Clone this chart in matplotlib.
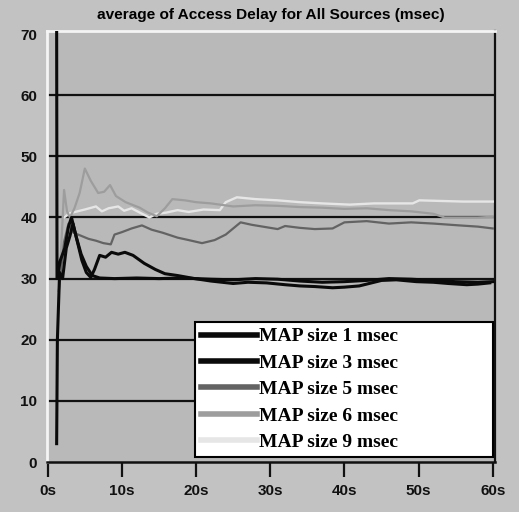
import matplotlib.pyplot as plt

# readings (time in s, delay in msec)
t_map1 = [1.2, 1.25, 1.7, 2.3, 2.8, 3.2, 3.8, 4.5, 5.2, 6.0, 7.0, 9.0, 12.0, 15.0, 18.0, 20.0,
          22.0, 25.0, 28.0, 31.0, 34.0, 37.0, 40.0, 43.0, 46.0, 49.0, 52.0, 55.0, 58.0, 60.0]
v_map1 = [72.0, 30.0, 33.0, 35.0, 38.5, 40.0, 37.0, 34.0, 32.0, 30.5, 30.1, 30.0, 30.1, 30.0, 30.1, 30.0,
          29.9, 29.8, 30.0, 29.9, 29.6, 29.4, 29.5, 29.7, 30.0, 29.9, 29.7, 29.5, 29.4, 29.5]

t_map3 = [1.2, 1.3, 1.6, 2.0, 2.5, 3.0, 3.4, 4.0, 4.6, 5.2, 5.8, 6.3, 7.0, 7.8, 8.6, 9.5, 10.4,
          11.5, 13.0, 14.5, 15.8, 17.5, 19.8, 22.0, 25.0, 27.0, 29.5, 32.0, 34.0, 36.0, 38.4,
          40.0, 42.0, 45.0, 47.0, 49.7, 52.0, 54.0, 56.5, 58.0, 59.6]
v_map3 = [3.0, 20.0, 31.0, 30.0, 35.0, 37.0, 39.0, 36.0, 33.0, 31.0, 30.2, 31.5, 33.8, 33.5, 34.3, 34.0, 34.3,
          33.8, 32.5, 31.5, 30.8, 30.5, 30.0, 29.6, 29.2, 29.4, 29.3, 29.0, 28.8, 28.7, 28.5,
          28.6, 28.8, 29.7, 29.8, 29.5, 29.4, 29.2, 29.0, 29.1, 29.3]

t_map5 = [1.5, 2.2, 2.8, 3.5, 4.5, 5.5, 6.5, 7.5, 8.5, 9.0, 10.0, 11.3, 12.7, 14.0, 15.5, 17.5,
          19.0, 20.8, 22.5, 24.0, 26.0, 27.5, 29.0, 31.0, 32.0, 34.0, 36.0, 38.4, 40.0, 43.0,
          46.0, 49.0, 52.0, 55.5, 58.0, 60.0]
v_map5 = [28.0, 36.0, 39.0, 37.5, 37.0, 36.5, 36.2, 35.8, 35.6, 37.2, 37.6, 38.2, 38.7, 38.0, 37.5, 36.7,
          36.3, 35.8, 36.3, 37.2, 39.2, 38.8, 38.5, 38.1, 38.6, 38.3, 38.1, 38.2, 39.2, 39.4,
          39.0, 39.2, 39.0, 38.7, 38.5, 38.2]

t_map6 = [1.6, 2.2, 2.6, 3.0, 3.6, 4.3, 5.0, 5.8, 6.8, 7.6, 8.4, 9.2, 10.5, 12.4, 13.5, 14.7,
          15.8, 16.8, 18.5, 20.0, 22.0, 25.0, 28.0, 31.0, 34.0, 37.0, 40.0, 43.0, 46.0, 49.0,
          52.0, 53.5, 55.0, 58.0, 60.0]
v_map6 = [30.0, 44.5, 41.0, 40.0, 41.5, 44.0, 48.0, 46.0, 44.0, 44.2, 45.3, 43.5, 42.5, 41.6, 40.8, 40.2,
          41.5, 43.0, 42.8, 42.5, 42.3, 41.8, 42.0, 41.9, 41.7, 41.6, 41.4, 41.5, 41.2, 41.0,
          40.6, 40.0, 40.0, 40.0, 40.1]

t_map9 = [2.2, 3.0, 4.0, 5.0, 6.5, 7.3, 8.2, 9.5, 10.3, 11.3, 12.4, 13.7, 14.7, 16.0, 17.5, 19.0,
          21.0, 23.2, 24.0, 25.5, 28.0, 31.0, 34.0, 37.0, 40.7, 44.0, 49.2, 50.1, 53.0, 56.0, 60.0]
v_map9 = [40.0, 40.7, 41.0, 41.3, 41.8, 41.0, 41.5, 41.8, 41.1, 41.5, 40.8, 40.0, 40.6, 40.8, 41.2, 40.9,
          41.3, 41.2, 42.5, 43.3, 43.0, 42.8, 42.5, 42.3, 42.1, 42.3, 42.3, 42.8, 42.7, 42.6, 42.6]

series = [
    ('MAP size 1 msec', t_map1, v_map1, '#0a0a0a', 2.2),
    ('MAP size 3 msec', t_map3, v_map3, '#0a0a0a', 2.2),
    ('MAP size 5 msec', t_map5, v_map5, '#636363', 1.6),
    ('MAP size 6 msec', t_map6, v_map6, '#9d9d9d', 1.6),
    ('MAP size 9 msec', t_map9, v_map9, '#e6e6e6', 1.7),
]
zorders = [6, 7, 5, 4, 3]

x_ticks = [0, 10, 20, 30, 40, 50, 60]
x_labels = ['0s', '10s', '20s', '30s', '40s', '50s', '60s']
y_ticks = [0, 10, 20, 30, 40, 50, 60, 70]
y_labels = ['0', '10', '20', '30', '40', '50', '60', '70']

W, H = 519, 512
fig = plt.figure(figsize=(W / 100, H / 100), dpi=100, facecolor='#c2c2c2')
ax = fig.add_axes([47 / W, (H - 462) / H, (495 - 47) / W, (462 - 31) / H], facecolor='#b9b9b9')

for (label, t, v, color, lw), z in zip(series, zorders):
    ax.plot(t, v, color=color, lw=lw, label=label, zorder=z, solid_joinstyle='round')

for y in [10, 20, 30, 40, 50, 60]:
    ax.axhline(y, color='#111111', lw=1.6, zorder=2)

ax.set_xlim(-0.1, 60.3)
ax.set_ylim(0, 70.5)
ax.set_xticks(x_ticks)
ax.set_xticklabels(x_labels)
ax.set_yticks(y_ticks)
ax.set_yticklabels(y_labels)

tick_font = dict(family='Liberation Sans', weight='bold', size=11)
for lab in ax.get_xticklabels() + ax.get_yticklabels():
    lab.set_fontproperties(tick_font)
ax.tick_params(axis='x', direction='out', length=11, width=1.6, pad=5, colors='#111111')
ax.tick_params(axis='y', length=0, pad=7, colors='#111111')

ax.spines['left'].set_color('#f4f4f4')
ax.spines['left'].set_linewidth(2)
ax.spines['top'].set_color('#f4f4f4')
ax.spines['top'].set_linewidth(2)
ax.spines['right'].set_color('#111111')
ax.spines['right'].set_linewidth(1.6)
ax.spines['bottom'].set_color('#111111')
ax.spines['bottom'].set_linewidth(1.8)

fig.text(271 / W, 1 - 15 / H, 'average of Access Delay for All Sources (msec)',
         ha='center', va='center', fontsize=11.1, fontweight='bold', family='Liberation Sans')

leg = ax.legend(loc='upper left', mode='expand',
                bbox_to_anchor=(195 / W, (H - 457) / H, (493 - 195) / W, (457 - 322) / H),
                bbox_transform=fig.transFigure,
                prop=dict(family='Liberation Serif', weight='bold', size=14),
                frameon=True, fancybox=False, framealpha=1, edgecolor='black',
                handlelength=2.9, handletextpad=0.1, labelspacing=0.45, borderpad=0.3,
                borderaxespad=0)
leg.get_frame().set_linewidth(1.5)
leg.set_zorder(10)
for h in leg.get_lines():
    h.set_linewidth(4)

fig.savefig('out.png', dpi=100, facecolor=fig.get_facecolor())
